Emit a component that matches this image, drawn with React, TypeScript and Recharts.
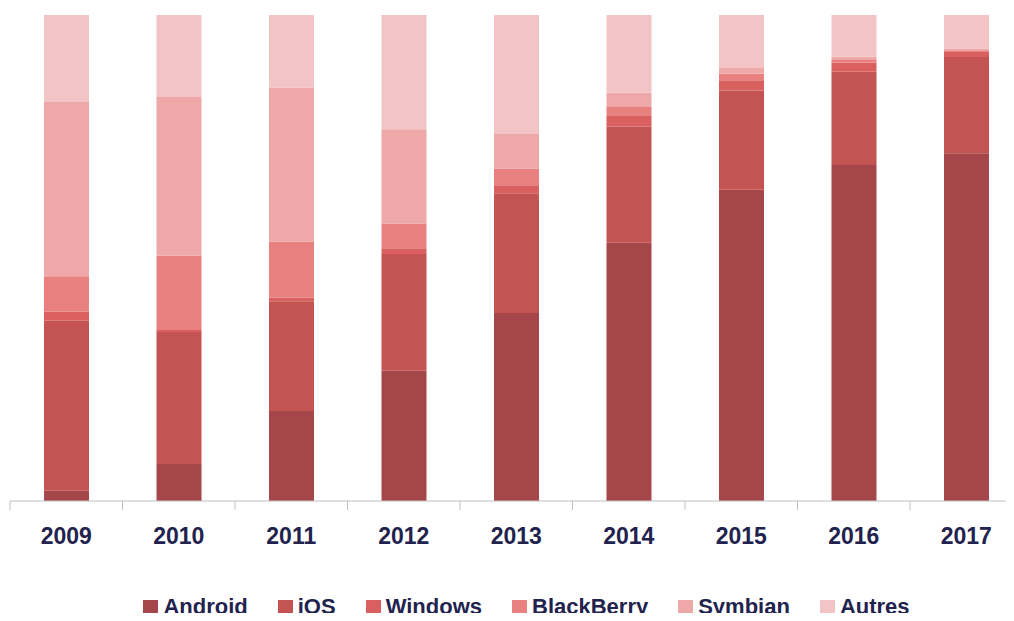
import React from 'react';
import { BarChart, Bar, XAxis, YAxis } from 'recharts';

const years = ['2009', '2010', '2011', '2012', '2013', '2014', '2015', '2016', '2017'];

// market share per year (%)
const android = [2.1, 7.6, 18.5, 26.8, 38.7, 53.1, 64.0, 69.1, 71.6];
const ios = [35.0, 27.2, 22.5, 24.0, 24.6, 23.9, 20.4, 19.2, 19.8];
const windows = [1.85, 0.4, 0.8, 1.2, 1.5, 2.3, 2.1, 1.85, 1.2];
const blackberry = [7.3, 15.3, 11.5, 5.1, 3.6, 1.7, 1.3, 0.7, 0.2];
const symbian = [35.9, 32.7, 31.6, 19.4, 7.1, 2.9, 1.2, 0.5, 0.35];
const autres = [17.9, 16.9, 14.9, 23.5, 24.5, 16.0, 10.9, 8.6, 6.9];

const series = [
  { key: 'Android', values: android, color: '#A5474A' },
  { key: 'iOS', values: ios, color: '#C45451' },
  { key: 'Windows', values: windows, color: '#DA6060' },
  { key: 'BlackBerry', values: blackberry, color: '#E88080' },
  { key: 'Symbian', values: symbian, color: '#EEA8A8' },
  { key: 'Autres', values: autres, color: '#F2C4C6' },
];

const data = years.map((year, i) => {
  const row: any = { year };
  series.forEach(s => { row[s.key] = s.values[i]; });
  return row;
});

const FONT = '"Liberation Sans", Arial, sans-serif';
const TEXT = '#22224E';

// label at the category centre, tick mark on the category boundaries
const YearTick = (props: any) => {
  const { x, y, payload, index } = props;
  const half = payload.offset ?? 56.25;
  return (
    <g>
      <line x1={x - half} x2={x - half} y1={y - 9} y2={y} stroke="#BFBFBF" />
      {index === years.length - 1 && (
        <line x1={x + half} x2={x + half} y1={y - 9} y2={y} stroke="#BFBFBF" />
      )}
      <text x={x} y={y + 34} textAnchor="middle" fill={TEXT} fontFamily={FONT} fontWeight="bold" fontSize={23}>
        {payload.value}
      </text>
    </g>
  );
};

export default function App() {
  return (
    <div style={{ position: 'relative', width: 1014, height: 621, margin: -8, overflow: 'hidden', background: '#fff' }}>
      <BarChart
        width={1032}
        height={621}
        data={data}
        stackOffset="expand"
        margin={{ top: 15, right: 9.5, left: 10, bottom: 0 }}
      >
        <XAxis
          dataKey="year"
          height={120}
          stroke="#BFBFBF"
          tickSize={9}
          tickMargin={0}
          tickLine={false}
          tick={<YearTick />}
          interval={0}
        />
        <YAxis hide domain={[0, 1]} />
        {series.map(s => (
          <Bar key={s.key} dataKey={s.key} stackId="a" fill={s.color} barSize={45} isAnimationActive={false} />
        ))}
      </BarChart>
      <div
        style={{
          position: 'absolute',
          top: 596,
          left: 0,
          width: 1053,
          display: 'flex',
          justifyContent: 'center',
          alignItems: 'center',
          fontFamily: FONT,
          fontWeight: 'bold',
          fontSize: 22,
          lineHeight: '22px',
          color: TEXT,
        }}
      >
        {series.map((s, i) => (
          <div key={s.key} style={{ display: 'flex', alignItems: 'center', marginLeft: i === 0 ? 0 : 30 }}>
            <span style={{ width: 15, height: 15, background: s.color, marginRight: 5, display: 'inline-block' }} />
            <span>{s.key}</span>
          </div>
        ))}
      </div>
    </div>
  );
}
